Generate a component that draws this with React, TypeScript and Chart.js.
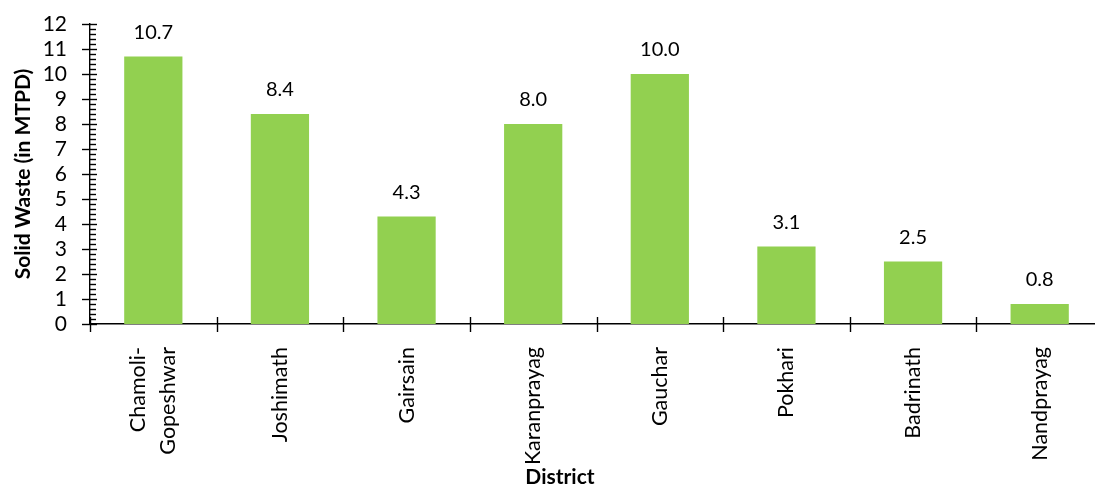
import { useEffect, useRef } from 'react';
import { Chart, registerables } from 'chart.js';

Chart.register(...registerables);

// District names (multi-line entries are stacked labels)
const districts: string[][] = [
  ['Chamoli-', 'Gopeshwar'],
  ['Joshimath'],
  ['Gairsain'],
  ['Karanprayag'],
  ['Gauchar'],
  ['Pokhari'],
  ['Badrinath'],
  ['Nandprayag'],
];

// Solid waste generated per district, in MTPD
const wasteMTPD: number[] = [10.7, 8.4, 4.3, 8.0, 10.0, 3.1, 2.5, 0.8];

// Y axis range and tick spacing
const yMin = 0;
const yMax = 12;
const yMajorStep = 1;
const yMinorStep = 0.2;

const yTitle = 'Solid Waste (in MTPD)';
const xTitle = 'District';

const FONT = 'Lato, "Liberation Sans", sans-serif';
const BAR_COLOR = '#92D050';

const decorations = {
  id: 'decorations',
  afterDraw(chart: Chart) {
    const { ctx, chartArea, scales } = chart;
    const x = scales.x;
    const y = scales.y;
    ctx.save();
    ctx.strokeStyle = '#000';
    ctx.lineWidth = 1.4;

    // y axis: major ticks cross the axis, minor ticks point inward
    const steps = Math.round((yMax - yMin) / yMinorStep);
    for (let i = 0; i <= steps; i++) {
      const v = yMin + i * yMinorStep;
      const py = Math.round(y.getPixelForValue(v)) + 0.5;
      const major = Math.abs(v / yMajorStep - Math.round(v / yMajorStep)) < 1e-6;
      ctx.beginPath();
      ctx.moveTo(chartArea.left - (major ? 8 : 0), py);
      ctx.lineTo(chartArea.left + (major ? 7 : 6), py);
      ctx.stroke();
    }

    // x axis: ticks on category boundaries
    for (let i = 0; i <= districts.length; i++) {
      const px = Math.round(x.getPixelForValue(i - 0.5)) + 0.5;
      ctx.beginPath();
      ctx.moveTo(px, chartArea.bottom - 7);
      ctx.lineTo(px, chartArea.bottom + 8);
      ctx.stroke();
    }

    // value labels above bars
    ctx.fillStyle = '#000';
    ctx.font = `20px ${FONT}`;
    ctx.textAlign = 'center';
    ctx.textBaseline = 'middle';
    const meta = chart.getDatasetMeta(0);
    meta.data.forEach((bar: any, i: number) => {
      ctx.fillText(wasteMTPD[i].toFixed(1), bar.x, bar.y - 24);
    });

    // rotated district labels
    const lineGap = 30;
    ctx.font = `21.5px ${FONT}`;
    districts.forEach((lines, i) => {
      const cx = x.getPixelForValue(i);
      ctx.save();
      ctx.translate(cx, chartArea.bottom + 23);
      ctx.rotate(-Math.PI / 2);
      ctx.textAlign = 'right';
      ctx.textBaseline = 'middle';
      const start = -((lines.length - 1) * lineGap) / 2;
      lines.forEach((t, j) => ctx.fillText(t, 0, start + j * lineGap));
      ctx.restore();
    });

    // axis titles
    ctx.font = `bold 21px ${FONT}`;
    ctx.textAlign = 'center';
    ctx.textBaseline = 'middle';
    ctx.fillText(xTitle, 560, 477);
    ctx.save();
    ctx.translate(23, (chartArea.top + chartArea.bottom) / 2);
    ctx.rotate(-Math.PI / 2);
    ctx.fillText(yTitle, 0, 0);
    ctx.restore();

    ctx.restore();
  },
};

export default function App() {
  const canvasRef = useRef<HTMLCanvasElement | null>(null);

  useEffect(() => {
    if (!canvasRef.current) return;
    const chart = new Chart(canvasRef.current, {
      type: 'bar',
      data: {
        labels: districts.map((d) => d.join(' ')),
        datasets: [
          {
            data: wasteMTPD,
            backgroundColor: BAR_COLOR,
            borderWidth: 0,
            categoryPercentage: 1,
            barPercentage: 0.46,
          },
        ],
      },
      options: {
        responsive: false,
        animation: false,
        layout: { padding: { top: 24, right: 1, left: 0, bottom: 0 } },
        plugins: {
          legend: { display: false },
          tooltip: { enabled: false },
          title: { display: false },
        },
        scales: {
          x: {
            offset: true,
            grid: { display: false, drawTicks: false },
            border: { display: true, color: '#000', width: 1.4 },
            ticks: { display: false },
            afterFit: (s: any) => {
              s.height = 162;
            },
          },
          y: {
            min: yMin,
            max: yMax,
            grid: { display: false, drawTicks: false },
            border: { display: true, color: '#000', width: 1.4 },
            ticks: {
              stepSize: yMajorStep,
              autoSkip: false,
              padding: 23,
              color: '#000',
              font: { family: FONT, size: 21 },
            },
            afterFit: (s: any) => {
              s.width = 90;
              s.paddingTop = 0;
              s.paddingBottom = 0;
            },
          },
        },
      },
      plugins: [decorations],
    });
    return () => chart.destroy();
  }, []);

  return (
    <div
      style={{
        position: 'absolute',
        left: 0,
        top: 0,
        width: 1095,
        height: 486,
        overflow: 'hidden',
        background: '#fff',
      }}
    >
      <canvas ref={canvasRef} width={1104} height={486} style={{ display: 'block' }} />
    </div>
  );
}
